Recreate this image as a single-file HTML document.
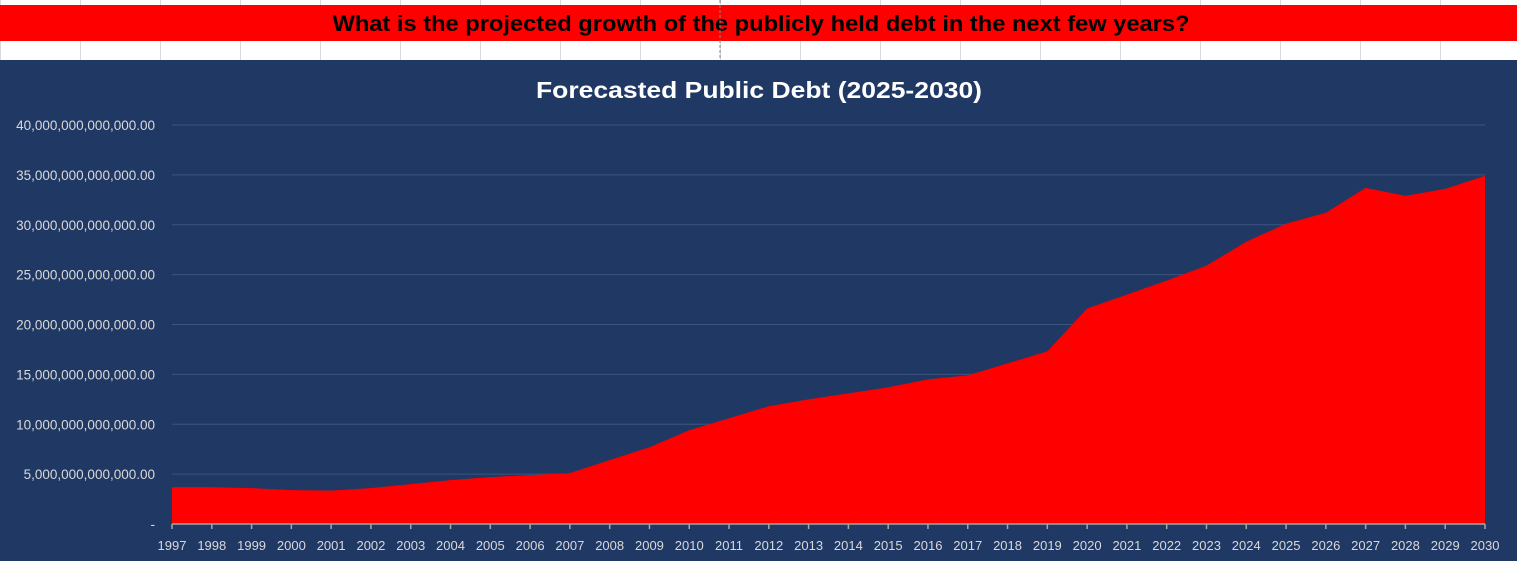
<!DOCTYPE html>
<html><head><meta charset="utf-8"><style>
html,body{margin:0;padding:0;width:1517px;height:561px;overflow:hidden;background:#fff;font-family:"Liberation Sans",sans-serif}
</style></head><body>
<svg width="1517" height="561" xmlns="http://www.w3.org/2000/svg">
<g id="cells"></g>
<rect x="0" y="5" width="1517" height="36" fill="#ff0000"/>
<text x="761" y="31" text-anchor="middle" font-size="22" font-weight="bold" fill="#000" textLength="857" lengthAdjust="spacingAndGlyphs">What is the projected growth of the publicly held debt in the next few years?</text>
<line x1="720" y1="0" x2="720" y2="60" stroke="#888" stroke-dasharray="3,2"/>
<rect x="0" y="60" width="1517" height="501" fill="#203864"/>
<text x="759" y="98" text-anchor="middle" font-size="23" font-weight="bold" fill="#fff" textLength="446" lengthAdjust="spacingAndGlyphs">Forecasted Public Debt (2025-2030)</text>
<g id="grid"></g>
<g id="plot"></g>
<g id="yl"></g>
<g id="xl"></g>
</svg>
<script>
const years=[1997,1998,1999,2000,2001,2002,2003,2004,2005,2006,2007,2008,2009,2010,2011,2012,2013,2014,2015,2016,2017,2018,2019,2020,2021,2022,2023,2024,2025,2026,2027,2028,2029,2030];
const debtTrillions=[3.7,3.7,3.6,3.4,3.35,3.6,4.0,4.4,4.7,4.9,5.1,6.4,7.7,9.4,10.6,11.8,12.5,13.1,13.7,14.5,14.9,16.1,17.3,21.6,23.0,24.4,25.9,28.3,30.1,31.2,33.7,32.9,33.6,34.9];
const yTicks=[0,5,10,15,20,25,30,35,40];
const yTickLabels=["-","5,000,000,000,000.00","10,000,000,000,000.00","15,000,000,000,000.00","20,000,000,000,000.00","25,000,000,000,000.00","30,000,000,000,000.00","35,000,000,000,000.00","40,000,000,000,000.00"];
const NS="http://www.w3.org/2000/svg";
const x0=172,x1=1485,yb=524,yt=125;
const xs=i=>x0+(x1-x0)*i/(years.length-1);
const ys=v=>yb-(yb-yt)*v/40;
function mk(t,a,p){const e=document.createElementNS(NS,t);for(const k in a)e.setAttribute(k,a[k]);p.appendChild(e);return e;}
const cells=document.getElementById('cells');
for(let x=0;x<1517;x+=80){const l=mk('line',{x1:x+0.5,y1:0,x2:x+0.5,y2:60,stroke:'#d9d9d9'},cells);

}
const grid=document.getElementById('grid'),yl=document.getElementById('yl'),xl=document.getElementById('xl'),plot=document.getElementById('plot');
yTicks.forEach((v,i)=>{
 if(v>0){const l=mk('line',{x1:x0,x2:x1,y1:ys(v),y2:ys(v),stroke:'#3b5480','stroke-width':1},grid);
 
 }
 const t=mk('text',{x:155,y:ys(v)+5,'text-anchor':'end','font-size':13.5,fill:'#d9d9d9'},yl);
 t.textContent=yTickLabels[i];
 
 
});
let d=`M${xs(0)},${yb}`;debtTrillions.forEach((v,i)=>d+=`L${xs(i)},${ys(v)}`);d+=`L${xs(years.length-1)},${yb}Z`;
const a=mk('path',{d:d,fill:'#ff0000'},plot);


mk('line',{x1:x0,x2:x1,y1:yb,y2:yb,stroke:'#a6a6a6','stroke-width':1.5},plot);
years.forEach((y,i)=>{
 mk('line',{x1:xs(i),x2:xs(i),y1:yb,y2:yb+5,stroke:'#a6a6a6','stroke-width':1.5},plot);
 const t=mk('text',{x:xs(i),y:550,'text-anchor':'middle','font-size':13,fill:'#d9d9d9'},xl);
 t.textContent=y;
 
 
});
</script>
</body></html>
